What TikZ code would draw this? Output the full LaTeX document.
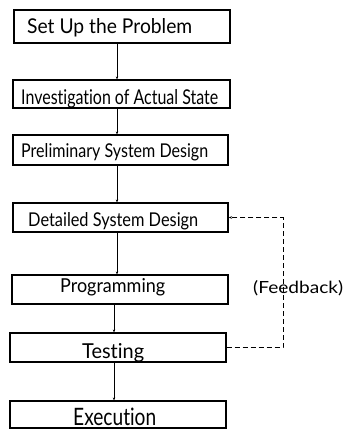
\documentclass[tikz,border=0pt]{standalone}
\usepackage{fontspec}
\usepackage{graphicx}
\setmainfont[Ligatures=NoCommon]{Lato}
\usetikzlibrary{arrows.meta}
% squeeze a label into a given width and height (in pt)
\newcommand\fitlbl[3]{\resizebox{#1pt}{#2pt}{#3}}
\begin{document}
\begin{tikzpicture}[x=1pt,y=-1pt,
  box/.style={draw, line width=1.2pt, inner sep=0pt},
  lbl/.style={inner sep=0pt, anchor=base west},
  flow/.style={line width=0.8pt, -{Stealth[length=3pt,width=2.4pt]}},
  fb/.style={line width=0.8pt, dash pattern=on 5pt off 3pt,
             -{Stealth[length=3.5pt,width=2.6pt]}}]
\useasboundingbox (0,0) rectangle (344,429);

% process boxes
\node[box, minimum width=216pt, minimum height=33pt] (b1) at (122,26.5) {};
\node[box, minimum width=217pt, minimum height=28pt] (b2) at (121.5,94) {};
\node[box, minimum width=215pt, minimum height=30pt] (b3) at (120.5,150) {};
\node[box, minimum width=215pt, minimum height=29pt] (b4) at (120.5,217.5) {};
\node[box, minimum width=216pt, minimum height=29pt] (b5) at (120,289.5) {};
\node[box, minimum width=216pt, minimum height=29pt] (b6) at (118,347.5) {};
\node[box, minimum width=216pt, minimum height=27pt] (b7) at (118,414.5) {};

% box labels
\node[lbl] (t1) at (27,33)   {\fitlbl{165}{15}{Set Up the Problem}};
\node[lbl] (t2) at (21,104)  {\fitlbl{197}{15}{Investigation of Actual State}};
\node[lbl] (t3) at (21,157)  {\fitlbl{187}{14}{Preliminary System Design}};
\node[lbl] (t4) at (28,226.5){\fitlbl{170}{14}{Detailed System Design}};
\node[lbl] (t5) at (60,292.5){\fitlbl{105}{14}{Programming}};
\node[lbl] (t6) at (82,358)  {\fitlbl{62}{15}{Testing}};
\node[lbl] (t7) at (73,425.5){\fitlbl{83}{17.5}{Execution}};

% the main flow
\coordinate (s1) at (117,0);
\coordinate (s2) at (114,0);
\draw[flow] (b1.south -| s1) -- (b2.north -| s1);
\draw[flow] (b2.south -| s1) -- (b3.north -| s1);
\draw[flow] (b3.south -| s1) -- (b4.north -| s1);
\draw[flow] (b4.south -| s1) -- (b5.north -| s1);
\draw[flow] (b5.south -| s2) -- (b6.north -| s2);
\draw[flow] (b6.south -| s2) -- (b7.north -| s2);

% feedback loop from testing back to detailed design
\coordinate (fx) at (283,0);
\draw[fb] (b6.east) -- (b6.east -| fx) -- (b4.east -| fx) -- (b4.east);
\node[lbl] (fbl) at (253,293) {\fitlbl{90}{13}{(Feedback)}};
\end{tikzpicture}
\end{document}
